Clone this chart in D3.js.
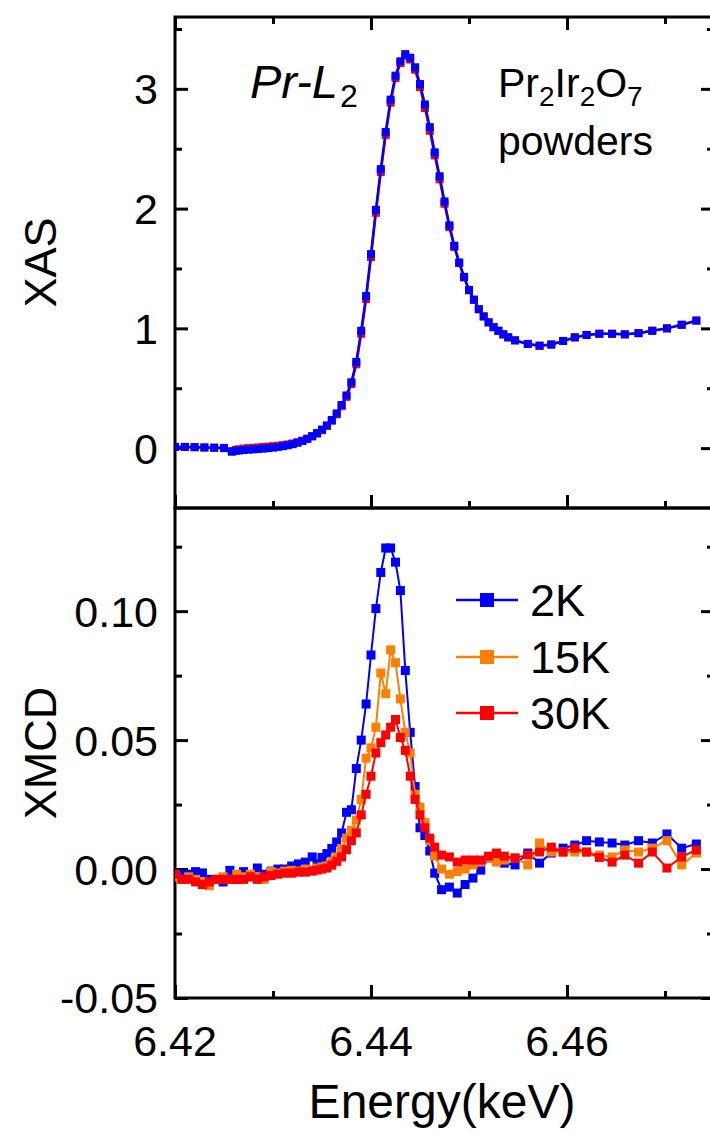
<!DOCTYPE html>
<html>
<head>
<meta charset="utf-8">
<script src="https://cdn.jsdelivr.net/npm/d3@7"></script>
<style>
  body { margin: 0; background: #fff; }
  text { font-family: "Liberation Sans", Arial, sans-serif; fill: #000; }
</style>
</head>
<body>
<svg id="chart" width="710" height="1133"></svg>
<script>
// ---- data (energies in keV) ----
const energyXAS = [
  6.4200, 6.4210, 6.4220, 6.4230, 6.4240, 6.4250, 6.4258, 6.4262,
  6.4265, 6.4270, 6.4275, 6.4280, 6.4285, 6.4290, 6.4295, 6.4300,
  6.4305, 6.4310, 6.4315, 6.4320, 6.4325, 6.4330, 6.4335, 6.4340,
  6.4345, 6.4350, 6.4355, 6.4360, 6.4365, 6.4370, 6.4375, 6.4380,
  6.4385, 6.4390, 6.4395, 6.4400, 6.4405, 6.4410, 6.4415, 6.4420,
  6.4425, 6.4430, 6.4435, 6.4440, 6.4445, 6.4450, 6.4455, 6.4460,
  6.4465, 6.4470, 6.4475, 6.4480, 6.4485, 6.4490, 6.4495, 6.4500,
  6.4505, 6.4510, 6.4515, 6.4520, 6.4525, 6.4530, 6.4535, 6.4540,
  6.4547, 6.4560, 6.4572, 6.4584, 6.4596, 6.4608, 6.4620, 6.4633,
  6.4646, 6.4659, 6.4673, 6.4687, 6.4702, 6.4717, 6.4732
];
const xas2K = [
  0.010, 0.010, 0.008, 0.005, 0.003, 0.000, -0.030, -0.022,
  -0.020, -0.016, -0.013, -0.010, -0.007, -0.004, 0.000, 0.004,
  0.010, 0.016, 0.024, 0.033, 0.045, 0.060, 0.078, 0.100,
  0.125, 0.155, 0.190, 0.235, 0.290, 0.360, 0.440, 0.550,
  0.720, 0.980, 1.270, 1.620, 1.990, 2.330, 2.640, 2.910,
  3.110, 3.230, 3.290, 3.260, 3.180, 3.040, 2.870, 2.680,
  2.470, 2.270, 2.060, 1.860, 1.690, 1.550, 1.430, 1.320,
  1.240, 1.160, 1.100, 1.050, 1.010, 0.980, 0.950, 0.925,
  0.900, 0.870, 0.855, 0.865, 0.895, 0.925, 0.945, 0.955,
  0.955, 0.950, 0.960, 0.980, 1.000, 1.030, 1.065
];
const xas30K = [
  0.010, 0.010, 0.008, 0.006, 0.004, 0.002, -0.025, -0.015,
  -0.010, -0.004, 0.000, 0.003, 0.006, 0.009, 0.012, 0.016,
  0.020, 0.025, 0.031, 0.039, 0.049, 0.062, 0.078, 0.098,
  0.122, 0.150, 0.184, 0.228, 0.282, 0.350, 0.428, 0.535,
  0.700, 0.955, 1.245, 1.595, 1.965, 2.305, 2.615, 2.885,
  3.090, 3.215, 3.275, 3.245, 3.160, 3.015, 2.840, 2.650,
  2.445, 2.245, 2.040, 1.845, 1.680, 1.545, 1.425, 1.318,
  1.238, 1.160, 1.100, 1.050, 1.010, 0.980, 0.950, 0.925,
  0.900, 0.870, 0.855, 0.865, 0.895, 0.925, 0.945, 0.955,
  0.955, 0.950, 0.960, 0.980, 1.000, 1.030, 1.065
];

const energyXMCD = [
  6.4200, 6.4207, 6.4214, 6.4221, 6.4228, 6.4235, 6.4242, 6.4249,
  6.4256, 6.4263, 6.4270, 6.4277, 6.4284, 6.4291, 6.4298, 6.4305,
  6.4312, 6.4319, 6.4326, 6.4333, 6.4340, 6.4345, 6.4350, 6.4355,
  6.4360, 6.4365, 6.4370, 6.4375, 6.4380, 6.4385, 6.4390, 6.4395,
  6.4400, 6.4405, 6.4410, 6.4415, 6.4420, 6.4425, 6.4430, 6.4435,
  6.4440, 6.4445, 6.4450, 6.4455, 6.4460, 6.4465, 6.4472, 6.4480,
  6.4488, 6.4496, 6.4504, 6.4512, 6.4520, 6.4528, 6.4536, 6.4547,
  6.4560, 6.4572, 6.4584, 6.4596, 6.4608, 6.4620, 6.4633, 6.4646,
  6.4659, 6.4673, 6.4687, 6.4702, 6.4717, 6.4732
];
const xmcd2K = [
  -0.0020, -0.0020, -0.0020, -0.0010, -0.0015, -0.0040, -0.0040, -0.0050,
  -0.0005, -0.0040, -0.0010, -0.0030, 0.0004, -0.0020, -0.0008, 0.0000,
  0.0000, 0.0012, 0.0020, 0.0027, 0.0047, 0.0020, 0.0045, 0.0060,
  0.0080, 0.0105, 0.0140, 0.0220, 0.0230, 0.0390, 0.0500, 0.0640,
  0.0830, 0.1010, 0.1150, 0.1245, 0.1245, 0.1190, 0.1080, 0.0770,
  0.0530, 0.0320, 0.0160, 0.0130, 0.0070, -0.0016, -0.0080, -0.0070,
  -0.0093, -0.0060, -0.0035, -0.0004, 0.0043, 0.0035, 0.0023, 0.0016,
  0.0062, 0.0023, 0.0062, 0.0081, 0.0093, 0.0110, 0.0105, 0.0101,
  0.0093, 0.0110, 0.0101, 0.0136, 0.0081, 0.0097
];
const xmcd15K = [
  -0.0030, -0.0040, -0.0030, -0.0040, -0.0050, -0.0065, -0.0040, -0.0030,
  -0.0040, -0.0020, -0.0030, -0.0020, -0.0030, -0.0040, -0.0010, -0.0015,
  -0.0008, -0.0005, -0.0008, 0.0000, -0.0004, 0.0004, 0.0008, 0.0012,
  0.0030, 0.0047, 0.0080, 0.0120, 0.0150, 0.0190, 0.0270, 0.0430,
  0.0470, 0.0550, 0.0760, 0.0680, 0.0850, 0.0800, 0.0660, 0.0530,
  0.0450, 0.0290, 0.0240, 0.0180, 0.0110, 0.0050, 0.0000, -0.0020,
  -0.0010, 0.0000, 0.0016, 0.0027, 0.0043, 0.0027, 0.0035, 0.0043,
  0.0016, 0.0101, 0.0066, 0.0066, 0.0066, 0.0066, 0.0054, 0.0047,
  0.0074, 0.0066, 0.0081, 0.0110, 0.0016, 0.0062
];
const xmcd30K = [
  -0.0020, -0.0040, -0.0040, -0.0050, -0.0060, -0.0050, -0.0040, -0.0040,
  -0.0040, -0.0040, -0.0040, -0.0030, -0.0040, -0.0030, -0.0025, -0.0020,
  -0.0016, -0.0016, -0.0012, -0.0012, -0.0008, -0.0004, 0.0000, 0.0004,
  0.0015, 0.0030, 0.0047, 0.0075, 0.0110, 0.0140, 0.0210, 0.0290,
  0.0360, 0.0450, 0.0490, 0.0520, 0.0550, 0.0580, 0.0510, 0.0460,
  0.0360, 0.0270, 0.0210, 0.0160, 0.0120, 0.0085, 0.0054, 0.0047,
  0.0027, 0.0035, 0.0035, 0.0035, 0.0050, 0.0062, 0.0050, 0.0043,
  0.0055, 0.0066, 0.0085, 0.0066, 0.0081, 0.0066, 0.0045, 0.0027,
  0.0054, 0.0023, 0.0066, 0.0004, 0.0047, 0.0074
];

const temps = ["2K", "15K", "30K"];
const colors = { "2K": "#0000ff", "15K": "#ff8000", "30K": "#ff0000" };

const energyTicks = [6.42, 6.44, 6.46];
const energyMinor = [6.43, 6.45, 6.47];
const xasTicks = [0, 1, 2, 3];
const xasMinor = [0.5, 1.5, 2.5, 3.5];
const xmcdTicks = [-0.05, 0.00, 0.05, 0.10];
const xmcdMinor = [-0.025, 0.025, 0.075, 0.125];

// ---- layout ----
const svg = d3.select("#chart");
const plotL = 175, plotR = 714;
const topPanel = { y0: 17, y1: 508 };
const botPanel = { y0: 508, y1: 998 };

const x = d3.scaleLinear().domain([6.42, 6.475]).range([plotL, plotR]);
const yXas = d3.scaleLinear().domain([-0.5, 3.6]).range([topPanel.y1, topPanel.y0]);
const yXmcd = d3.scaleLinear().domain([-0.05, 0.14]).range([botPanel.y1, botPanel.y0]);

const MAJOR = 13, MINOR = 7;
const TICK_FONT = 43;

function drawTicks(g, axisFn, scale, values, size, pos) {
  g.append("g")
    .attr("transform", pos)
    .call(axisFn(scale).tickValues(values).tickSize(-size).tickFormat(""))
    .call(s => s.select(".domain").remove())
    .call(s => s.selectAll("line").attr("stroke", "#000").attr("stroke-width", 3));
}

function panel(yScale, box, majors, minors, fmt, title, bottomLabels, topTicks) {
  const g = svg.append("g");
  // inward ticks on all sides
  drawTicks(g, d3.axisLeft, yScale, majors, MAJOR, `translate(${plotL},0)`);
  drawTicks(g, d3.axisLeft, yScale, minors, MINOR, `translate(${plotL},0)`);
  drawTicks(g, d3.axisRight, yScale, majors, MAJOR, `translate(${plotR},0)`);
  drawTicks(g, d3.axisRight, yScale, minors, MINOR, `translate(${plotR},0)`);
  drawTicks(g, d3.axisBottom, x, energyTicks, MAJOR, `translate(0,${box.y1})`);
  drawTicks(g, d3.axisBottom, x, energyMinor, MINOR, `translate(0,${box.y1})`);
  if (topTicks) {
    drawTicks(g, d3.axisTop, x, energyTicks, MAJOR, `translate(0,${box.y0})`);
    drawTicks(g, d3.axisTop, x, energyMinor, MINOR, `translate(0,${box.y0})`);
  }
  g.append("rect")
    .attr("x", plotL).attr("y", box.y0)
    .attr("width", plotR - plotL).attr("height", box.y1 - box.y0)
    .attr("fill", "none").attr("stroke", "#000").attr("stroke-width", 3);

  // y tick labels
  g.selectAll(null).data(majors).join("text")
    .attr("x", 158).attr("y", d => yScale(d))
    .attr("dy", "0.36em")
    .attr("text-anchor", "end")
    .attr("font-size", TICK_FONT)
    .text(fmt);

  g.append("text")
    .attr("transform", `translate(56,${(box.y0 + box.y1) / 2}) rotate(-90)`)
    .attr("text-anchor", "middle")
    .attr("font-size", 45)
    .text(title);

  if (bottomLabels) {
    g.selectAll(null).data(energyTicks).join("text")
      .attr("x", d => x(d)).attr("y", box.y1 + 58)
      .attr("text-anchor", "middle")
      .attr("font-size", TICK_FONT)
      .text(d => d3.format(".2f")(d));
  }
  return g;
}

panel(yXas, topPanel, xasTicks, xasMinor, d => d3.format("d")(d), "XAS", false, true);
panel(yXmcd, botPanel, xmcdTicks, xmcdMinor, d => d3.format(".2f")(d).replace("−", "-"), "XMCD", true, false);

svg.append("text")
  .attr("x", 442).attr("y", 1118)
  .attr("text-anchor", "middle")
  .attr("font-size", 48)
  .text("Energy(keV)");

// ---- series ----
svg.append("clipPath").attr("id", "plotclip")
  .append("rect").attr("x", plotL).attr("y", 0).attr("width", plotR - plotL).attr("height", 1000);

function series(energy, values, yScale, color, lw, size) {
  const pts = energy.map((e, i) => [e, values[i]]);
  const g = svg.append("g").attr("clip-path", "url(#plotclip)");
  g.append("path")
    .datum(pts)
    .attr("fill", "none").attr("stroke", color).attr("stroke-width", lw)
    .attr("d", d3.line().x(d => x(d[0])).y(d => yScale(d[1])));
  g.selectAll("rect").data(pts).join("rect")
    .attr("x", d => x(d[0]) - size / 2).attr("y", d => yScale(d[1]) - size / 2)
    .attr("width", size).attr("height", size)
    .attr("fill", color);
}

series(energyXAS, xas30K, yXas, colors["30K"], 2.5, 8);
series(energyXAS, xas2K, yXas, colors["2K"], 2.5, 8);

const xmcdData = { "2K": xmcd2K, "15K": xmcd15K, "30K": xmcd30K };
temps.forEach(t => series(energyXMCD, xmcdData[t], yXmcd, colors[t], 2, 9));

// ---- annotations ----
const ann = svg.append("g").attr("font-size", 41);
ann.append("text").attr("x", 250).attr("y", 98)
  .call(t => {
    t.append("tspan").attr("font-style", "italic").attr("font-size", 47).text("Pr-L");
    t.append("tspan").attr("font-size", 32).attr("dx", 2).attr("dy", 9).text("2");
  });
ann.append("text").attr("x", 498).attr("y", 97)
  .call(t => {
    t.append("tspan").text("Pr");
    t.append("tspan").attr("font-size", 28).attr("dy", 9).text("2");
    t.append("tspan").attr("dy", -9).text("Ir");
    t.append("tspan").attr("font-size", 28).attr("dy", 9).text("2");
    t.append("tspan").attr("dy", -9).text("O");
    t.append("tspan").attr("font-size", 28).attr("dy", 9).text("7");
  });
ann.append("text").attr("x", 498).attr("y", 155).text("powders");

// ---- legend ----
const legendRows = [600, 657, 713];
const legend = svg.append("g");
temps.forEach((t, i) => {
  const yy = legendRows[i];
  legend.append("line").attr("x1", 456).attr("x2", 518).attr("y1", yy).attr("y2", yy)
    .attr("stroke", colors[t]).attr("stroke-width", 2.5);
  legend.append("rect").attr("x", 480).attr("y", yy - 7).attr("width", 14).attr("height", 14)
    .attr("fill", colors[t]);
  legend.append("text").attr("x", 530).attr("y", yy).attr("dy", "0.36em")
    .attr("font-size", 45).text(t);
});
</script>
</body>
</html>
